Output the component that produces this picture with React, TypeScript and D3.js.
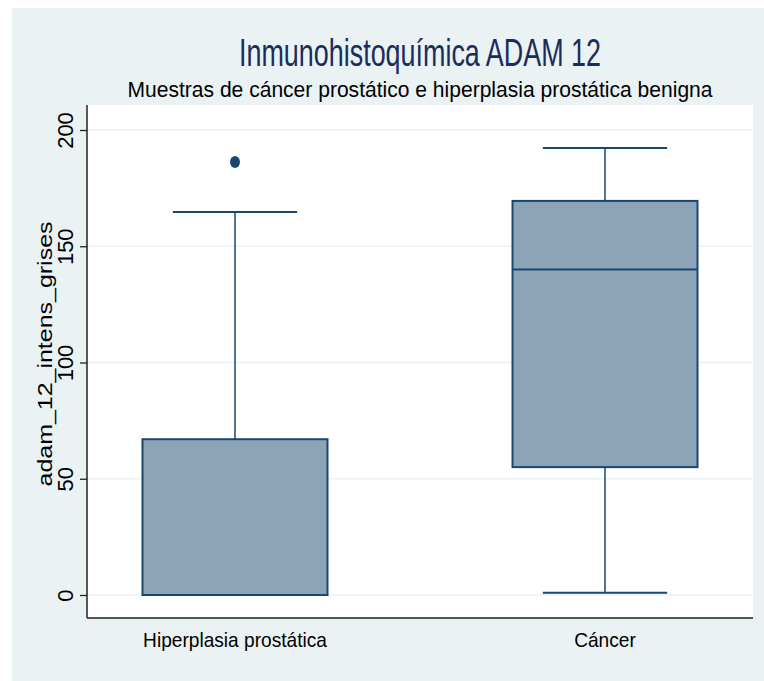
import React, { useEffect, useRef } from 'react';
import * as d3 from 'd3';

// Box plot data
const groups = ['Hiperplasia prostática', 'Cáncer'];
const lowerWhisker = [0, 1];
const q1 = [0, 55];
const median = [0, 140];
const q3 = [67, 169.5];
const upperWhisker = [164.7, 192.3];
const outliers = [[186.2], []];
const yTicks = [0, 50, 100, 150, 200];

const title = 'Inmunohistoquímica ADAM 12';
const subtitle = 'Muestras de cáncer prostático e hiperplasia prostática benigna';
const yLabel = 'adam_12_intens_grises';

const App = () => {
  const svgRef = useRef<SVGSVGElement>(null);

  useEffect(() => {
    const svg = d3.select(svgRef.current);
    svg.selectAll('*').remove();

    const W = 764;
    const H = 681;
    const plot = { left: 87, right: 753, top: 105, bottom: 618 };
    const font = "'Liberation Sans', Arial, sans-serif";
    const navy = '#1a476f';
    const fill = '#8da3b8';

    // squeeze text horizontally to mimic Stata's narrow Helvetica
    const condense = (sel: any, factor: number) => {
      sel.each(function (this: SVGTextElement) {
        const len = this.getComputedTextLength();
        d3.select(this).attr('textLength', len * factor).attr('lengthAdjust', 'spacingAndGlyphs');
      });
    };

    // outer region
    svg.append('rect').attr('x', 12).attr('y', 8).attr('width', W - 12).attr('height', H - 8)
      .attr('fill', '#eaf2f3');
    svg.append('rect').attr('x', plot.left).attr('y', plot.top)
      .attr('width', plot.right - plot.left).attr('height', plot.bottom - plot.top)
      .attr('fill', '#ffffff');

    const y = d3.scaleLinear().domain([0, 200]).range([595, 130]);
    const x = d3.scalePoint<string>().domain(groups).range([plot.left, plot.right]).padding(0.4);
    const step = x.step();
    const boxW = step * 0.5;
    const capW = step * 0.336;

    // gridlines
    svg.append('g').selectAll('line').data(yTicks).enter().append('line')
      .attr('x1', plot.left).attr('x2', plot.right)
      .attr('y1', d => y(d)).attr('y2', d => y(d))
      .attr('stroke', '#eaf2f3').attr('stroke-width', 1.5);

    // boxes
    const data = groups.map((g, i) => ({
      g, lo: lowerWhisker[i], q1: q1[i], med: median[i], q3: q3[i], hi: upperWhisker[i], out: outliers[i],
    }));
    const box = svg.append('g').selectAll('g').data(data).enter().append('g');
    box.append('line')
      .attr('x1', d => x(d.g)!).attr('x2', d => x(d.g)!)
      .attr('y1', d => y(d.q3)).attr('y2', d => y(d.hi))
      .attr('stroke', navy).attr('stroke-width', 1.5);
    box.append('line')
      .attr('x1', d => x(d.g)!).attr('x2', d => x(d.g)!)
      .attr('y1', d => y(d.q1)).attr('y2', d => y(d.lo))
      .attr('stroke', navy).attr('stroke-width', 1.5);
    box.append('line')
      .attr('x1', d => x(d.g)! - capW / 2).attr('x2', d => x(d.g)! + capW / 2)
      .attr('y1', d => y(d.hi)).attr('y2', d => y(d.hi))
      .attr('stroke', navy).attr('stroke-width', 2);
    box.append('line')
      .attr('x1', d => x(d.g)! - capW / 2).attr('x2', d => x(d.g)! + capW / 2)
      .attr('y1', d => y(d.lo)).attr('y2', d => y(d.lo))
      .attr('stroke', navy).attr('stroke-width', 2);
    box.append('rect')
      .attr('x', d => x(d.g)! - boxW / 2).attr('width', boxW)
      .attr('y', d => y(d.q3)).attr('height', d => y(d.q1) - y(d.q3))
      .attr('fill', fill).attr('stroke', navy).attr('stroke-width', 2);
    box.append('line')
      .attr('x1', d => x(d.g)! - boxW / 2).attr('x2', d => x(d.g)! + boxW / 2)
      .attr('y1', d => y(d.med)).attr('y2', d => y(d.med))
      .attr('stroke', navy).attr('stroke-width', 2);
    box.selectAll('ellipse').data(d => d.out.map(v => ({ g: d.g, v }))).enter().append('ellipse')
      .attr('cx', d => x(d.g)!).attr('cy', d => y(d.v)).attr('rx', 5).attr('ry', 6)
      .attr('fill', navy);

    // axes
    const yAxis = svg.append('g').attr('transform', `translate(${plot.left},0)`)
      .call(d3.axisLeft(y).tickValues(yTicks).tickSize(7).tickPadding(0).tickSizeOuter(0));
    yAxis.select('.domain').remove();
    yAxis.selectAll('.tick line').attr('stroke', '#222').attr('stroke-width', 1.3);
    yAxis.selectAll('.tick text').remove();
    yAxis.selectAll('.tick').append('text')
      .attr('transform', 'translate(-14,0) rotate(-90)')
      .attr('text-anchor', 'middle')
      .attr('fill', '#000')
      .style('font-family', font)
      .style('font-size', '22px')
      .text(d => String(d));

    svg.append('line').attr('x1', plot.left).attr('x2', plot.left)
      .attr('y1', plot.top).attr('y2', plot.bottom).attr('stroke', '#222').attr('stroke-width', 1.5);
    svg.append('line').attr('x1', plot.left).attr('x2', plot.right)
      .attr('y1', plot.bottom).attr('y2', plot.bottom).attr('stroke', '#222').attr('stroke-width', 1.5);

    const xl = svg.append('g').selectAll('text').data(groups).enter().append('text')
      .attr('x', d => x(d)!).attr('y', 647)
      .attr('text-anchor', 'middle')
      .style('font-family', font).style('font-size', '21px')
      .text(d => d);
    condense(xl, 0.91);

    // titles
    const cx = (plot.left + plot.right) / 2;
    svg.append('text').attr('x', cx).attr('y', 66).attr('text-anchor', 'middle')
      .attr('fill', '#1a2c5b').style('font-family', font).style('font-size', '38px')
      .attr('textLength', 362).attr('lengthAdjust', 'spacingAndGlyphs')
      .text(title);
    svg.append('text').attr('x', cx).attr('y', 97).attr('text-anchor', 'middle')
      .attr('fill', '#000').style('font-family', font).style('font-size', '22.5px')
      .attr('textLength', 585).attr('lengthAdjust', 'spacingAndGlyphs')
      .text(subtitle);
    svg.append('text')
      .attr('transform', 'translate(52,354) rotate(-90)')
      .attr('text-anchor', 'middle')
      .style('font-family', font).style('font-size', '21px')
      .attr('textLength', 265).attr('lengthAdjust', 'spacingAndGlyphs')
      .text(yLabel);
  }, []);

  return (
    <svg ref={svgRef} width={764} height={681}
      style={{ position: 'absolute', left: 0, top: 0, background: '#ffffff' }} />
  );
};

export default App;
